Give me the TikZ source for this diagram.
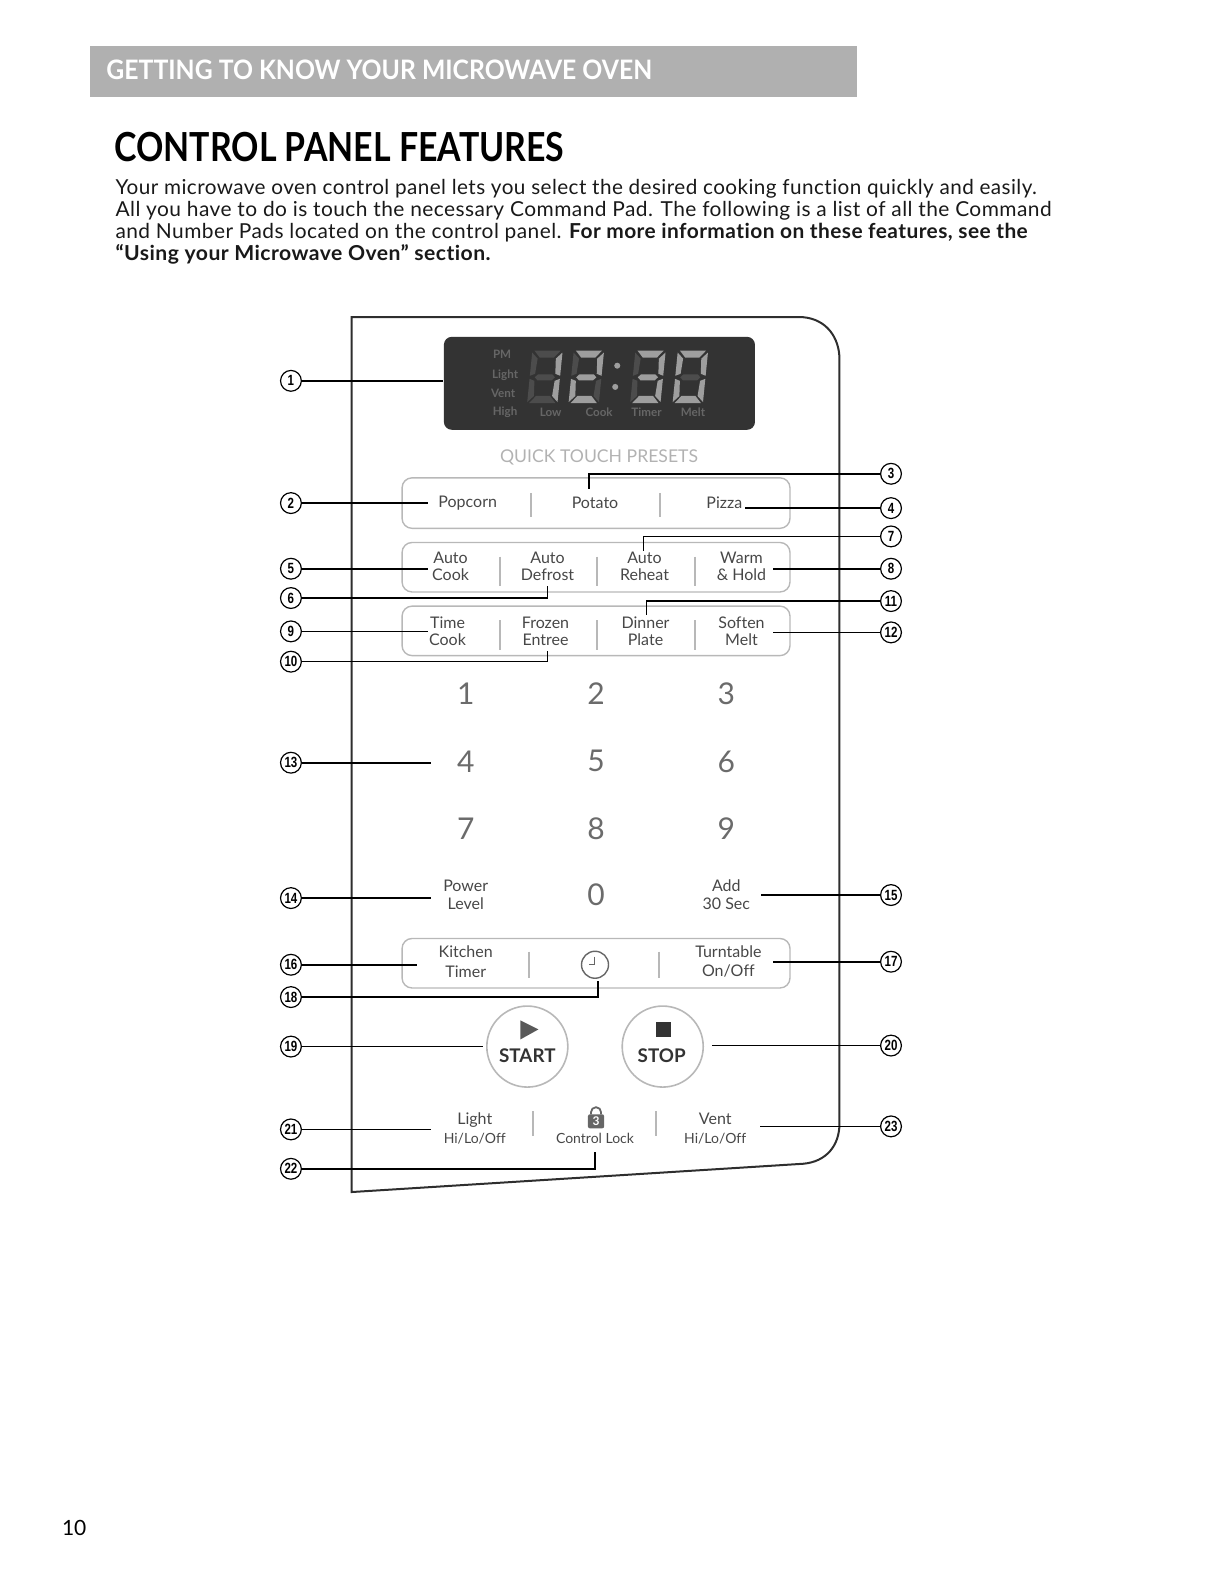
\documentclass[tikz,border=0pt]{standalone}
\usepackage{fontspec}
\usepackage{graphicx}
\setmainfont{Lato}[Ligatures=NoCommon]
\newfontfamily\spacedf{Lato}[LetterSpace=2.1,Ligatures=NoCommon]
\newfontfamily\numfont{Liberation Sans}
\definecolor{inkp}{gray}{0.18}
\definecolor{padtxt}{gray}{0.28}
\definecolor{padline}{gray}{0.72}
\definecolor{bright}{gray}{0.62}
\definecolor{dim}{gray}{0.30}
\definecolor{disptxt}{gray}{0.40}
\newcommand{\fs}[1]{\fontsize{#1}{#1}\selectfont}
\newcommand{\DIG}[8]{%
 \begin{scope}[shift={(#1,347)},xslant=0.1]
  \fill[#2] (3,0)--(29,0)--(23,7)--(9,7)--cycle;
  \fill[#3] (31,2)--(31,25)--(26,23)--(25,8)--cycle;
  \fill[#4] (31,28)--(31,51)--(25,45)--(26,30)--cycle;
  \fill[#5] (3,52)--(29,52)--(23,45)--(9,45)--cycle;
  \fill[#6] (1,28)--(1,51)--(7,45)--(6,30)--cycle;
  \fill[#7] (1,2)--(1,25)--(6,23)--(7,8)--cycle;
  \fill[#8] (6,26.5)--(9,23.5)--(23,23.5)--(26,26.5)--(23,29.5)--(9,29.5)--cycle;
 \end{scope}}
\tikzset{
 x=0.50495pt,y=-0.50495pt,
 body/.style={anchor=base west,inner sep=0pt,font=\spacedf\fs{10.3},text=black!90},
 num/.style={circle,draw=black,line width=0.6pt,fill=white,inner sep=0pt,minimum size=10.4pt,font=\numfont\bfseries\fs{7.4}},
 lead/.style={draw=black,line width=0.8pt},
 padbox/.style={draw=padline,line width=0.7pt,rounded corners=5pt},
 sep/.style={draw=padline,line width=0.9pt},
 padlbl/.style={inner sep=0pt,font=\fs{8},text=padtxt},
 digit/.style={inner sep=0pt,font=\fs{15},text=black!58},
 disp/.style={inner sep=0pt,font=\bfseries\fs{5.8},text=disptxt},
 roundkey/.style={circle,draw=padline,line width=0.8pt,inner sep=0pt,minimum size=40.5pt},
}
\newcommand{\NUM}[1]{\scalebox{0.78}[1]{#1}}
\begin{document}
\begin{tikzpicture}
\useasboundingbox (0,0) rectangle (1212,1568);
% page head
\node[fill=gray!62,minimum width=383.3pt,minimum height=25.8pt,inner sep=0pt,anchor=north west] (bar) at (89,45) {};
\node[anchor=base west,inner sep=0pt,font=\bfseries\fs{13.4},text=white] (head) at (105,79) {\scalebox{0.923}[1]{GETTING TO KNOW YOUR MICROWAVE OVEN}};
\node[anchor=base west,inner sep=0pt,font=\bfseries\fs{20},text=black] (title) at (113,160) {\scalebox{0.847}[1]{CONTROL PANEL FEATURES}};
\node[body] (l1) at (114,193) {\scalebox{1.0044}[1]{Your microwave oven control panel lets you select the desired cooking function quickly and easily.}};
\node[body] (l2) at (114,214) {\scalebox{1.0153}[1]{All you have to do is touch the necessary Command Pad. The following is a list of all the Command}};
\node[body] (l3) at (114,236) {\scalebox{1.0143}[1]{and Number Pads located on the control panel. \bfseries For more information on these features, see the}};
\node[body,font=\spacedf\bfseries\fs{10.3}] (l4) at (114,258) {\scalebox{1.027}[1]{“Using your Microwave Oven” section.}};
\node[anchor=base west,inner sep=0pt,font=\fs{10.5}] (pg) at (61,1520) {10};
% panel outline
\draw[inkp,line width=1pt] (348,1180) -- (348,314) -- (795,314) .. controls (818,316) and (831,334) .. (831,356) -- (831,1112) .. controls (831,1134) and (818,1150) .. (795,1152) -- cycle;
% display
\node[fill=black!80,rounded corners=4pt,minimum width=155.5pt,minimum height=46.5pt,inner sep=0pt,anchor=north west] (lcd) at (439,333) {};
\DIG{526}{dim}{bright}{bright}{dim}{dim}{dim}{dim}
\DIG{567}{bright}{bright}{dim}{bright}{bright}{dim}{bright}
\DIG{628}{bright}{bright}{bright}{bright}{dim}{dim}{bright}
\DIG{670}{bright}{bright}{bright}{bright}{bright}{bright}{dim}
\fill[bright] (611,362) circle (3);
\fill[bright] (609,383) circle (3);
\node[disp] (d1) at (497,351) {PM};
\node[disp] (d2) at (500,371) {Light};
\node[disp] (d3) at (498,389) {Vent};
\node[disp] (d4) at (500,408) {High};
\node[disp] (d5) at (545,408) {Low};
\node[disp] (d6) at (593,408) {Cook};
\node[disp] (d7) at (640,408) {Timer};
\node[disp] (d8) at (686,408) {Melt};
\node[inner sep=0pt,font=\fs{8.8},text=black!30] (qtp) at (593,453) {QUICK TOUCH PRESETS};
% pad rows
\draw[padbox] (398,473) rectangle (782,523);
\draw[padbox] (398,537) rectangle (782,586);
\draw[padbox] (398,600) rectangle (782,649);
\draw[padbox] (398,929) rectangle (782,978);
\draw[sep] (526,488) -- (526,512);
\draw[sep] (653,488) -- (653,512);
\foreach \xx in {495,591,688}{
 \draw[sep] (\xx,551) -- (\xx,580);
 \draw[sep] (\xx,614) -- (\xx,643);}
\draw[sep] (524,942) -- (524,968);
\draw[sep] (652,942) -- (652,968);
\draw[sep] (528,1100) -- (528,1125);
\draw[sep] (649,1100) -- (649,1125);
% pad labels
\node[padlbl] (popcorn) at (463,498) {Popcorn};
\node[padlbl] (potato) at (589,498) {Potato};
\node[padlbl] (pizza) at (717,498) {Pizza};
\node[padlbl,align=center] (acook) at (446,561) {Auto\\[0.6pt]Cook};
\node[padlbl,align=center] (adef) at (542,561) {Auto\\[0.6pt]Defrost};
\node[padlbl,align=center] (areh) at (638,561) {Auto\\[0.6pt]Reheat};
\node[padlbl,align=center] (warm) at (734,561) {Warm\\[0.6pt]\& Hold};
\node[padlbl,align=center] (tcook) at (443,625) {Time\\[0.6pt]Cook};
\node[padlbl,align=center] (froz) at (540,625) {Frozen\\[0.6pt]Entree};
\node[padlbl,align=center] (dinn) at (639,625) {Dinner\\[0.6pt]Plate};
\node[padlbl,align=center] (soft) at (734,625) {Soften\\[0.6pt]Melt};
\foreach \nm/\xx/\yy/\tx in {k1/461/687/1,k2/590/687/2,k3/719/687/3,k4/461/754/4,k5/590/753/5,k6/719/754/6,k7/461/820/7,k8/590/820/8,k9/719/820/9,k0/590/886/0}
 \node[digit] (\nm) at (\xx,\yy) {\tx};
\node[padlbl,align=center] (power) at (461,886) {Power\\[1pt]Level};
\node[padlbl,align=center] (add) at (719,886) {Add\\[1pt]30 Sec};
\node[padlbl,align=center] (ktimer) at (461,952) {Kitchen\\[1.6pt]Timer};
\node[padlbl,align=center] (turn) at (721,952) {Turntable\\[1.6pt]On/Off};
\node[circle,draw=black!60,line width=0.7pt,minimum size=13.5pt,inner sep=0pt] (clock) at (589,955) {};
\draw[black!60,line width=0.5pt] (588,947) -- (588,955) -- (583,955);
% start / stop
\node[roundkey] (startk) at (522,1036) {};
\node[roundkey] (stopk) at (656,1036) {};
\fill[black!65] (515,1010) -- (533,1019) -- (515,1029) -- cycle;
\fill[black!80] (649,1012) rectangle (664,1027);
\node[inner sep=0pt,font=\bfseries\fs{9.4},text=black!80] (startt) at (522,1045) {START};
\node[inner sep=0pt,font=\bfseries\fs{9.4},text=black!80] (stopt) at (655,1045) {STOP};
% lower row
\node[padlbl,align=center] (light) at (470,1117) {Light\\[1.6pt]\fs{7}Hi/Lo/Off};
\node[padlbl,align=center] (vent) at (708,1117) {Vent\\[1.6pt]\fs{7}Hi/Lo/Off};
\node[padlbl,font=\fs{7}] (clock2) at (589,1127) {Control Lock};
\fill[black!60,rounded corners=1pt] (582,1103) rectangle (598,1117);
\draw[black!60,line width=0.9pt] (585,1103) -- (585,1101) arc (180:360:5) -- (595,1103);
\node[inner sep=0pt,font=\bfseries\fs{6},text=white] (lock3) at (590,1110) {3};
% callouts
\foreach \nm/\xx/\yy/\tx in {c1/288/377/1,c2/288/498/2,c5/288/563/5,c6/288/592/6,c9/288/625/9,c10/288/655/10,c13/288/755/13,c14/288/889/14,c16/288/955/16,c18/288/987/18,c19/288/1036/19,c21/288/1118/21,c22/288/1157/22,c3/882/469/3,c4/882/503/4,c7/882/531/7,c8/882/563/8,c11/882/595/11,c12/882/626/12,c15/882/886/15,c17/882/952/17,c20/882/1035/20,c23/882/1115/23}
 \node[num] (\nm) at (\xx,\yy) {\NUM{\tx}};
\coordinate (e1) at (439,377);
\coordinate (e2) at (424,498);
\coordinate (e5) at (424,563);
\coordinate (e6a) at (542,592);
\coordinate (e6) at (542,580);
\coordinate (e9) at (424,625);
\coordinate (e10a) at (542,655);
\coordinate (e10) at (542,644);
\coordinate (e13) at (427,755);
\coordinate (e14) at (427,889);
\coordinate (e16) at (413,955);
\coordinate (e18a) at (592,987);
\coordinate (e18) at (592,971);
\coordinate (e19) at (478,1036);
\coordinate (e21) at (427,1118);
\coordinate (e22a) at (589,1157);
\coordinate (e22) at (589,1140);
\coordinate (e3a) at (583,469);
\coordinate (e3) at (583,484);
\coordinate (e4) at (737,503);
\coordinate (e7a) at (637,531);
\coordinate (e7) at (637,545);
\coordinate (e8) at (765,563);
\coordinate (e11a) at (640,595);
\coordinate (e11) at (640,609);
\coordinate (e12) at (765,626);
\coordinate (e15) at (753,886);
\coordinate (e17) at (765,952);
\coordinate (e20) at (705,1035);
\coordinate (e23) at (752,1115);
\foreach \a/\b in {c1/e1,c2/e2,c5/e5,c9/e9,c13/e13,c14/e14,c16/e16,c19/e19,c21/e21,c4/e4,c8/e8,c12/e12,c15/e15,c17/e17,c20/e20,c23/e23}
 \draw[lead] (\a) -- (\b);
\draw[lead] (c6) -- (e6a) -- (e6);
\draw[lead] (c10) -- (e10a) -- (e10);
\draw[lead] (c18) -- (e18a) -- (e18);
\draw[lead] (c22) -- (e22a) -- (e22);
\draw[lead] (c3) -- (e3a) -- (e3);
\draw[lead] (c7) -- (e7a) -- (e7);
\draw[lead] (c11) -- (e11a) -- (e11);
\end{tikzpicture}
\end{document}
